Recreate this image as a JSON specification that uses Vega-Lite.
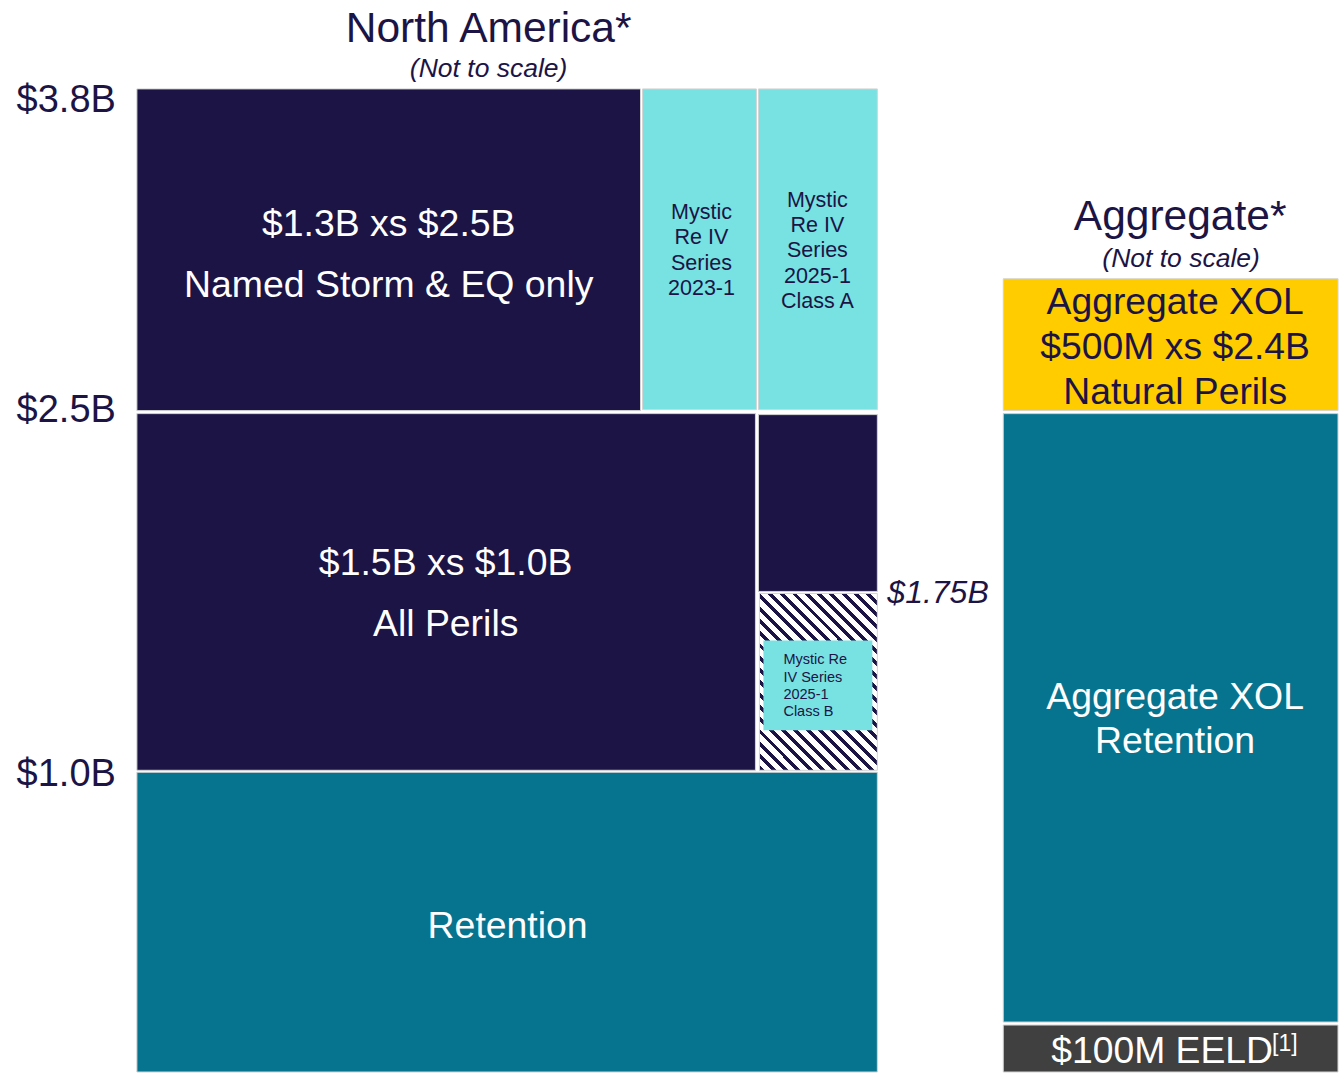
{
  "$schema": "https://vega.github.io/schema/vega-lite/v6.json",
  "width": 1339,
  "height": 1073,
  "autosize": {"type": "fit", "contains": "padding"},
  "padding": 0,
  "background": "white",
  "config": {"view": {"stroke": null}},
  "datasets": {
    "blocks": [
      {"layer": "$1.3B xs $2.5B Named Storm & EQ only", "type": "traditional", "x0": 137, "x1": 641, "y0": 89, "y1": 411},
      {"layer": "Mystic Re IV Series 2023-1", "type": "catbond", "x0": 643, "x1": 757, "y0": 89, "y1": 410},
      {"layer": "Mystic Re IV Series 2025-1 Class A", "type": "catbond", "x0": 759, "x1": 878, "y0": 89, "y1": 410},
      {"layer": "$1.5B xs $1.0B All Perils", "type": "traditional", "x0": 137, "x1": 756, "y0": 414, "y1": 771},
      {"layer": "Upper right of $1.75B", "type": "traditional", "x0": 759, "x1": 878, "y0": 415, "y1": 592},
      {"layer": "Retention", "type": "retention", "x0": 137, "x1": 878, "y0": 773, "y1": 1073},
      {"layer": "Aggregate XOL $500M xs $2.4B", "type": "aggregate", "x0": 1004, "x1": 1339, "y0": 279, "y1": 411},
      {"layer": "Aggregate XOL Retention", "type": "retention", "x0": 1004, "x1": 1339, "y0": 414, "y1": 1023},
      {"layer": "$100M EELD", "type": "eeld", "x0": 1004, "x1": 1339, "y0": 1026, "y1": 1073}
    ],
    "hatch": [
      {"layer": "Shared layer below $1.75B", "x0": 760, "x1": 878, "y0": 594, "y1": 771}
    ],
    "inner": [
      {"layer": "Mystic Re IV Series 2025-1 Class B", "type": "catbond", "x0": 764, "x1": 873, "y0": 641, "y1": 731}
    ],
    "labels": [
      {"text": "North America*", "x": 489, "y": 29, "role": "title"},
      {"text": "(Not to scale)", "x": 489, "y": 69, "role": "subtitle"},
      {"text": "Aggregate*", "x": 1181, "y": 217, "role": "title"},
      {"text": "(Not to scale)", "x": 1182, "y": 259, "role": "subtitle"},
      {"text": "$3.8B", "x": 116, "y": 101, "role": "axis"},
      {"text": "$2.5B", "x": 116, "y": 411, "role": "axis"},
      {"text": "$1.0B", "x": 116, "y": 776, "role": "axis"},
      {"text": "$1.3B xs $2.5B", "x": 389, "y": 225, "role": "white"},
      {"text": "Named Storm & EQ only", "x": 389, "y": 286, "role": "white"},
      {"text": "$1.5B xs $1.0B", "x": 446, "y": 565, "role": "white"},
      {"text": "All Perils", "x": 446, "y": 626, "role": "white"},
      {"text": "Retention", "x": 508, "y": 928, "role": "white"},
      {"text": "Aggregate XOL", "x": 1176, "y": 699, "role": "white"},
      {"text": "Retention", "x": 1176, "y": 743, "role": "white"},
      {"text": "Aggregate XOL", "x": 1176, "y": 303, "role": "navy"},
      {"text": "$500M xs $2.4B", "x": 1176, "y": 348, "role": "navy"},
      {"text": "Natural Perils", "x": 1176, "y": 393, "role": "navy"},
      {"text": "Mystic", "x": 702, "y": 213, "role": "bond"},
      {"text": "Re IV", "x": 702, "y": 238, "role": "bond"},
      {"text": "Series", "x": 702, "y": 264, "role": "bond"},
      {"text": "2023-1", "x": 702, "y": 289, "role": "bond"},
      {"text": "Mystic", "x": 818, "y": 201, "role": "bond"},
      {"text": "Re IV", "x": 818, "y": 226, "role": "bond"},
      {"text": "Series", "x": 818, "y": 251, "role": "bond"},
      {"text": "2025-1", "x": 818, "y": 277, "role": "bond"},
      {"text": "Class A", "x": 818, "y": 302, "role": "bond"},
      {"text": "Mystic Re", "x": 784, "y": 661, "role": "bondsmall"},
      {"text": "IV Series", "x": 784, "y": 679, "role": "bondsmall"},
      {"text": "2025-1", "x": 784, "y": 696, "role": "bondsmall"},
      {"text": "Class B", "x": 784, "y": 713, "role": "bondsmall"},
      {"text": "$1.75B", "x": 888, "y": 594, "role": "note"},
      {"text": "$100M EELD", "x": 1052, "y": 1053, "role": "eeld"},
      {"text": "[1]", "x": 1273, "y": 1045, "role": "sup"}
    ]
  },
  "layer": [
    {
      "data": {"name": "blocks"},
      "mark": {"type": "rect", "stroke": "#d4d4d4", "strokeWidth": 1},
      "encoding": {
        "x": {"field": "x0", "type": "quantitative", "scale": {"domain": [0, 1339], "nice": false, "zero": false}, "axis": null},
        "x2": {"field": "x1"},
        "y": {"field": "y0", "type": "quantitative", "scale": {"domain": [0, 1073], "reverse": true, "nice": false, "zero": false}, "axis": null},
        "y2": {"field": "y1"},
        "color": {
          "field": "type", "type": "nominal", "legend": null,
          "scale": {"domain": ["traditional", "catbond", "retention", "aggregate", "eeld"], "range": ["#1c1445", "#77e2e1", "#07748f", "#ffcc00", "#404040"]}
        }
      }
    },
    {
      "data": {"name": "hatch"},
      "mark": {
        "type": "rect", "stroke": "#d4d4d4", "strokeWidth": 1,
        "fill": {
          "gradient": "linear", "x1": 0, "y1": 1, "x2": 0.77, "y2": -0.154,
          "stops": [
            {"offset": 0, "color": "#1c1445"}, {"offset": 0.01667, "color": "#1c1445"}, {"offset": 0.01667, "color": "#ffffff"}, {"offset": 0.04167, "color": "#ffffff"},
            {"offset": 0.04167, "color": "#1c1445"}, {"offset": 0.05833, "color": "#1c1445"}, {"offset": 0.05833, "color": "#ffffff"}, {"offset": 0.08333, "color": "#ffffff"},
            {"offset": 0.08333, "color": "#1c1445"}, {"offset": 0.1, "color": "#1c1445"}, {"offset": 0.1, "color": "#ffffff"}, {"offset": 0.125, "color": "#ffffff"},
            {"offset": 0.125, "color": "#1c1445"}, {"offset": 0.14167, "color": "#1c1445"}, {"offset": 0.14167, "color": "#ffffff"}, {"offset": 0.16667, "color": "#ffffff"},
            {"offset": 0.16667, "color": "#1c1445"}, {"offset": 0.18333, "color": "#1c1445"}, {"offset": 0.18333, "color": "#ffffff"}, {"offset": 0.20833, "color": "#ffffff"},
            {"offset": 0.20833, "color": "#1c1445"}, {"offset": 0.225, "color": "#1c1445"}, {"offset": 0.225, "color": "#ffffff"}, {"offset": 0.25, "color": "#ffffff"},
            {"offset": 0.25, "color": "#1c1445"}, {"offset": 0.26667, "color": "#1c1445"}, {"offset": 0.26667, "color": "#ffffff"}, {"offset": 0.29167, "color": "#ffffff"},
            {"offset": 0.29167, "color": "#1c1445"}, {"offset": 0.30833, "color": "#1c1445"}, {"offset": 0.30833, "color": "#ffffff"}, {"offset": 0.33333, "color": "#ffffff"},
            {"offset": 0.33333, "color": "#1c1445"}, {"offset": 0.35, "color": "#1c1445"}, {"offset": 0.35, "color": "#ffffff"}, {"offset": 0.375, "color": "#ffffff"},
            {"offset": 0.375, "color": "#1c1445"}, {"offset": 0.39167, "color": "#1c1445"}, {"offset": 0.39167, "color": "#ffffff"}, {"offset": 0.41667, "color": "#ffffff"},
            {"offset": 0.41667, "color": "#1c1445"}, {"offset": 0.43333, "color": "#1c1445"}, {"offset": 0.43333, "color": "#ffffff"}, {"offset": 0.45833, "color": "#ffffff"},
            {"offset": 0.45833, "color": "#1c1445"}, {"offset": 0.475, "color": "#1c1445"}, {"offset": 0.475, "color": "#ffffff"}, {"offset": 0.5, "color": "#ffffff"},
            {"offset": 0.5, "color": "#1c1445"}, {"offset": 0.51667, "color": "#1c1445"}, {"offset": 0.51667, "color": "#ffffff"}, {"offset": 0.54167, "color": "#ffffff"},
            {"offset": 0.54167, "color": "#1c1445"}, {"offset": 0.55833, "color": "#1c1445"}, {"offset": 0.55833, "color": "#ffffff"}, {"offset": 0.58333, "color": "#ffffff"},
            {"offset": 0.58333, "color": "#1c1445"}, {"offset": 0.6, "color": "#1c1445"}, {"offset": 0.6, "color": "#ffffff"}, {"offset": 0.625, "color": "#ffffff"},
            {"offset": 0.625, "color": "#1c1445"}, {"offset": 0.64167, "color": "#1c1445"}, {"offset": 0.64167, "color": "#ffffff"}, {"offset": 0.66667, "color": "#ffffff"},
            {"offset": 0.66667, "color": "#1c1445"}, {"offset": 0.68333, "color": "#1c1445"}, {"offset": 0.68333, "color": "#ffffff"}, {"offset": 0.70833, "color": "#ffffff"},
            {"offset": 0.70833, "color": "#1c1445"}, {"offset": 0.725, "color": "#1c1445"}, {"offset": 0.725, "color": "#ffffff"}, {"offset": 0.75, "color": "#ffffff"},
            {"offset": 0.75, "color": "#1c1445"}, {"offset": 0.76667, "color": "#1c1445"}, {"offset": 0.76667, "color": "#ffffff"}, {"offset": 0.79167, "color": "#ffffff"},
            {"offset": 0.79167, "color": "#1c1445"}, {"offset": 0.80833, "color": "#1c1445"}, {"offset": 0.80833, "color": "#ffffff"}, {"offset": 0.83333, "color": "#ffffff"},
            {"offset": 0.83333, "color": "#1c1445"}, {"offset": 0.85, "color": "#1c1445"}, {"offset": 0.85, "color": "#ffffff"}, {"offset": 0.875, "color": "#ffffff"},
            {"offset": 0.875, "color": "#1c1445"}, {"offset": 0.89167, "color": "#1c1445"}, {"offset": 0.89167, "color": "#ffffff"}, {"offset": 0.91667, "color": "#ffffff"},
            {"offset": 0.91667, "color": "#1c1445"}, {"offset": 0.93333, "color": "#1c1445"}, {"offset": 0.93333, "color": "#ffffff"}, {"offset": 0.95833, "color": "#ffffff"},
            {"offset": 0.95833, "color": "#1c1445"}, {"offset": 0.975, "color": "#1c1445"}, {"offset": 0.975, "color": "#ffffff"}, {"offset": 1, "color": "#ffffff"}
          ]
        }
      },
      "encoding": {
        "x": {"field": "x0", "type": "quantitative", "scale": {"domain": [0, 1339], "nice": false, "zero": false}, "axis": null},
        "x2": {"field": "x1"},
        "y": {"field": "y0", "type": "quantitative", "scale": {"domain": [0, 1073], "reverse": true, "nice": false, "zero": false}, "axis": null},
        "y2": {"field": "y1"}
      }
    },
    {
      "data": {"name": "inner"},
      "mark": {"type": "rect", "fill": "#77e2e1", "strokeWidth": 0},
      "encoding": {
        "x": {"field": "x0", "type": "quantitative", "scale": {"domain": [0, 1339], "nice": false, "zero": false}, "axis": null},
        "x2": {"field": "x1"},
        "y": {"field": "y0", "type": "quantitative", "scale": {"domain": [0, 1073], "reverse": true, "nice": false, "zero": false}, "axis": null},
        "y2": {"field": "y1"}
      }
    },
    {
      "data": {"name": "labels"},
      "transform": [{"filter": "datum.role === 'title'"}],
      "mark": {"type": "text", "font": "Liberation Sans", "fontSize": 42.5, "color": "#1c1445", "align": "center", "baseline": "middle"},
      "encoding": {
        "x": {"field": "x", "type": "quantitative", "scale": {"domain": [0, 1339], "nice": false, "zero": false}, "axis": null},
        "y": {"field": "y", "type": "quantitative", "scale": {"domain": [0, 1073], "reverse": true, "nice": false, "zero": false}, "axis": null},
        "text": {"field": "text"}
      }
    },
    {
      "data": {"name": "labels"},
      "transform": [{"filter": "datum.role === 'subtitle'"}],
      "mark": {"type": "text", "font": "Liberation Sans", "fontSize": 26.5, "fontStyle": "italic", "color": "#1c1445", "align": "center", "baseline": "middle"},
      "encoding": {
        "x": {"field": "x", "type": "quantitative", "scale": {"domain": [0, 1339], "nice": false, "zero": false}, "axis": null},
        "y": {"field": "y", "type": "quantitative", "scale": {"domain": [0, 1073], "reverse": true, "nice": false, "zero": false}, "axis": null},
        "text": {"field": "text"}
      }
    },
    {
      "data": {"name": "labels"},
      "transform": [{"filter": "datum.role === 'axis'"}],
      "mark": {"type": "text", "font": "Liberation Sans", "fontSize": 38, "color": "#1c1445", "align": "right", "baseline": "middle"},
      "encoding": {
        "x": {"field": "x", "type": "quantitative", "scale": {"domain": [0, 1339], "nice": false, "zero": false}, "axis": null},
        "y": {"field": "y", "type": "quantitative", "scale": {"domain": [0, 1073], "reverse": true, "nice": false, "zero": false}, "axis": null},
        "text": {"field": "text"}
      }
    },
    {
      "data": {"name": "labels"},
      "transform": [{"filter": "datum.role === 'white'"}],
      "mark": {"type": "text", "font": "Liberation Sans", "fontSize": 37.4, "color": "#ffffff", "align": "center", "baseline": "middle"},
      "encoding": {
        "x": {"field": "x", "type": "quantitative", "scale": {"domain": [0, 1339], "nice": false, "zero": false}, "axis": null},
        "y": {"field": "y", "type": "quantitative", "scale": {"domain": [0, 1073], "reverse": true, "nice": false, "zero": false}, "axis": null},
        "text": {"field": "text"}
      }
    },
    {
      "data": {"name": "labels"},
      "transform": [{"filter": "datum.role === 'navy'"}],
      "mark": {"type": "text", "font": "Liberation Sans", "fontSize": 37.3, "color": "#1c1445", "align": "center", "baseline": "middle"},
      "encoding": {
        "x": {"field": "x", "type": "quantitative", "scale": {"domain": [0, 1339], "nice": false, "zero": false}, "axis": null},
        "y": {"field": "y", "type": "quantitative", "scale": {"domain": [0, 1073], "reverse": true, "nice": false, "zero": false}, "axis": null},
        "text": {"field": "text"}
      }
    },
    {
      "data": {"name": "labels"},
      "transform": [{"filter": "datum.role === 'bond'"}],
      "mark": {"type": "text", "font": "Liberation Sans", "fontSize": 21.5, "color": "#1c1445", "align": "center", "baseline": "middle"},
      "encoding": {
        "x": {"field": "x", "type": "quantitative", "scale": {"domain": [0, 1339], "nice": false, "zero": false}, "axis": null},
        "y": {"field": "y", "type": "quantitative", "scale": {"domain": [0, 1073], "reverse": true, "nice": false, "zero": false}, "axis": null},
        "text": {"field": "text"}
      }
    },
    {
      "data": {"name": "labels"},
      "transform": [{"filter": "datum.role === 'bondsmall'"}],
      "mark": {"type": "text", "font": "Liberation Sans", "fontSize": 14.5, "color": "#1c1445", "align": "left", "baseline": "middle"},
      "encoding": {
        "x": {"field": "x", "type": "quantitative", "scale": {"domain": [0, 1339], "nice": false, "zero": false}, "axis": null},
        "y": {"field": "y", "type": "quantitative", "scale": {"domain": [0, 1073], "reverse": true, "nice": false, "zero": false}, "axis": null},
        "text": {"field": "text"}
      }
    },
    {
      "data": {"name": "labels"},
      "transform": [{"filter": "datum.role === 'note'"}],
      "mark": {"type": "text", "font": "Liberation Sans", "fontSize": 32, "fontStyle": "italic", "color": "#1c1445", "align": "left", "baseline": "middle"},
      "encoding": {
        "x": {"field": "x", "type": "quantitative", "scale": {"domain": [0, 1339], "nice": false, "zero": false}, "axis": null},
        "y": {"field": "y", "type": "quantitative", "scale": {"domain": [0, 1073], "reverse": true, "nice": false, "zero": false}, "axis": null},
        "text": {"field": "text"}
      }
    },
    {
      "data": {"name": "labels"},
      "transform": [{"filter": "datum.role === 'eeld'"}],
      "mark": {"type": "text", "font": "Liberation Sans", "fontSize": 37.3, "color": "#ffffff", "align": "left", "baseline": "middle"},
      "encoding": {
        "x": {"field": "x", "type": "quantitative", "scale": {"domain": [0, 1339], "nice": false, "zero": false}, "axis": null},
        "y": {"field": "y", "type": "quantitative", "scale": {"domain": [0, 1073], "reverse": true, "nice": false, "zero": false}, "axis": null},
        "text": {"field": "text"}
      }
    },
    {
      "data": {"name": "labels"},
      "transform": [{"filter": "datum.role === 'sup'"}],
      "mark": {"type": "text", "font": "Liberation Sans", "fontSize": 23, "color": "#ffffff", "align": "left", "baseline": "middle"},
      "encoding": {
        "x": {"field": "x", "type": "quantitative", "scale": {"domain": [0, 1339], "nice": false, "zero": false}, "axis": null},
        "y": {"field": "y", "type": "quantitative", "scale": {"domain": [0, 1073], "reverse": true, "nice": false, "zero": false}, "axis": null},
        "text": {"field": "text"}
      }
    }
  ]
}
